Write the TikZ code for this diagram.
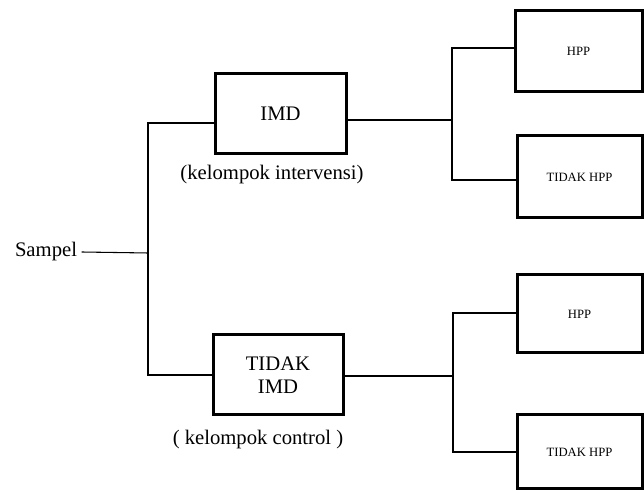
\documentclass[tikz,border=0pt]{standalone}
\usepackage{fontspec}
\setmainfont{Liberation Serif}
\usepackage{tikz}
\usetikzlibrary{positioning, calc}
\tikzstyle{teks} = [font=\rmfamily\fontsize{15.5}{17}\selectfont]
\tikzstyle{kotak} = [draw, rectangle, line width=2.25pt, inner sep=0pt, align=center, teks]
\tikzstyle{kotakkecil} = [kotak, font=\rmfamily\fontsize{9.5}{11}\selectfont]
\tikzstyle{garis} = [line width=0.8pt]

\begin{document}
\begin{tikzpicture}[x=0.75pt, y=-0.75pt]
    \useasboundingbox (0,0) rectangle (644,491);
    \node[teks] (sampel) at (46,252) {Sampel};
    \node[kotak, minimum width=98.25pt, minimum height=60pt] (imd) at (280.5,114) {IMD};
    \node[kotak, minimum width=97.5pt, minimum height=60pt] (tidakimd) at (278,375) {TIDAK\\IMD};
    \node[teks] (intervensi) at (272,175) {(kelompok intervensi)};
    \node[teks] (control) at (258,440) {( kelompok control )};
    \node[kotakkecil, minimum width=95.25pt, minimum height=60.75pt] (hppa) at (578.5,51.5) {HPP};
    \node[kotakkecil, minimum width=93.75pt, minimum height=61.5pt] (tidakhppa) at (579.5,177) {TIDAK HPP};
    \node[kotakkecil, minimum width=93.75pt, minimum height=58.5pt] (hppb) at (579.5,314) {HPP};
    \node[kotakkecil, minimum width=93.75pt, minimum height=55.5pt] (tidakhppb) at (579.5,452) {TIDAK HPP};
    % percabangan sampel
    \coordinate (sj) at (148,253);
    \coordinate (sa) at (148,123);
    \coordinate (sb) at (148,375);
    \draw[garis] (sampel.east) -- (sj);
    \draw[garis] (sa -| imd.west) -- (sa) -- (sb) -- (sb -| tidakimd.west);
    % percabangan IMD
    \coordinate (ja) at (452,120);
    \coordinate (ja1) at (452,48);
    \coordinate (ja2) at (452,180);
    \draw[garis] (ja -| imd.east) -- (ja);
    \draw[garis] (ja1 -| hppa.west) -- (ja1) -- (ja2) -- (ja2 -| tidakhppa.west);
    % percabangan TIDAK IMD
    \coordinate (jb) at (453,376);
    \coordinate (jb1) at (453,313);
    \coordinate (jb2) at (453,452);
    \draw[garis] (jb -| tidakimd.east) -- (jb);
    \draw[garis] (jb1 -| hppb.west) -- (jb1) -- (jb2) -- (jb2 -| tidakhppb.west);
\end{tikzpicture}
\end{document}
